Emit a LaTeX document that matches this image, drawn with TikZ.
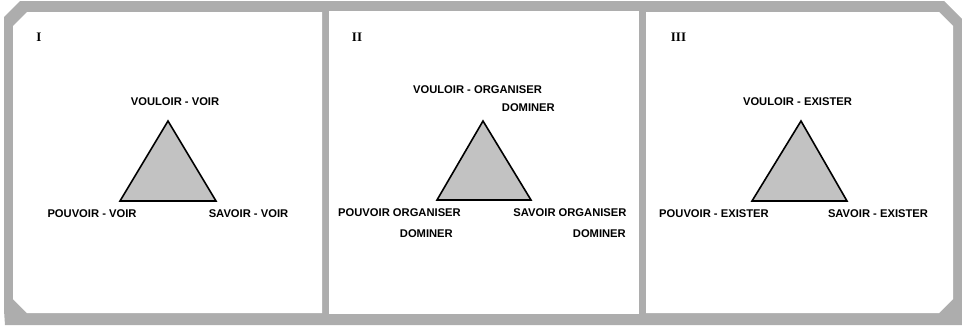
\documentclass[tikz,border=0pt]{standalone}
\usepackage{fontspec}
\setmainfont{Liberation Sans}
\newfontfamily\numfont{Liberation Serif}
\definecolor{framegray}{gray}{0.68}
\definecolor{trigray}{gray}{0.76}
\begin{document}
\begin{tikzpicture}[x=1pt,y=-1pt,
  lbl/.style={inner sep=0pt,font=\fontsize{11.2}{13}\selectfont\bfseries},
  num/.style={inner sep=0pt,font=\fontsize{13}{15}\selectfont\numfont\bfseries},
  tri/.style={draw=black,line width=1.6pt,fill=trigray,line join=miter}]
\useasboundingbox (0,0) rectangle (962,325);
% gray frame
\fill[framegray] (20,1) -- (944,1) -- (962,19) -- (962,325) -- (5,325) -- (4,310) -- (4,17) -- cycle;
% white panels
\fill[white] (27,12) -- (322,12) -- (322,313) -- (27,313) -- (13,299) -- (13,26) -- cycle;
\fill[white] (329,11) rectangle (639,314);
\fill[white] (646,12) -- (939,12) -- (953,26) -- (953,299) -- (939,313) -- (646,313) -- cycle;
% Panel I
\node[num] (n1) at (39,37) {I};
\coordinate (a1) at (168,121);
\coordinate (b1) at (120,201);
\coordinate (c1) at (216,201);
\draw[tri] (a1) -- (b1) -- (c1) -- cycle;
\node[lbl] (t1) at (175,102) {VOULOIR - VOIR};
\node[lbl] (l1) at (92,214) {POUVOIR - VOIR};
\node[lbl] (r1) at (248.5,214) {SAVOIR - VOIR};
% Panel II
\node[num] (n2) at (357,37.5) {II};
\coordinate (a2) at (483,121);
\coordinate (b2) at (437,200);
\coordinate (c2) at (531,200);
\draw[tri] (a2) -- (b2) -- (c2) -- cycle;
\node[lbl] (t2) at (477.5,90) {VOULOIR - ORGANISER};
\node[lbl,anchor=east] (t2b) at (555,108) {DOMINER};
\node[lbl] (l2) at (399.5,213) {POUVOIR ORGANISER};
\node[lbl,anchor=east] (l2b) at (453,234) {DOMINER};
\node[lbl] (r2) at (570,213) {SAVOIR ORGANISER};
\node[lbl,anchor=east] (r2b) at (626,234) {DOMINER};
% Panel III
\node[num] (n3) at (678.5,37) {III};
\coordinate (a3) at (801,121);
\coordinate (b3) at (752,201);
\coordinate (c3) at (847,201);
\draw[tri] (a3) -- (b3) -- (c3) -- cycle;
\node[lbl] (t3) at (797.5,102) {VOULOIR - EXISTER};
\node[lbl] (l3) at (714,214) {POUVOIR - EXISTER};
\node[lbl] (r3) at (878,214) {SAVOIR - EXISTER};
\end{tikzpicture}
\end{document}
